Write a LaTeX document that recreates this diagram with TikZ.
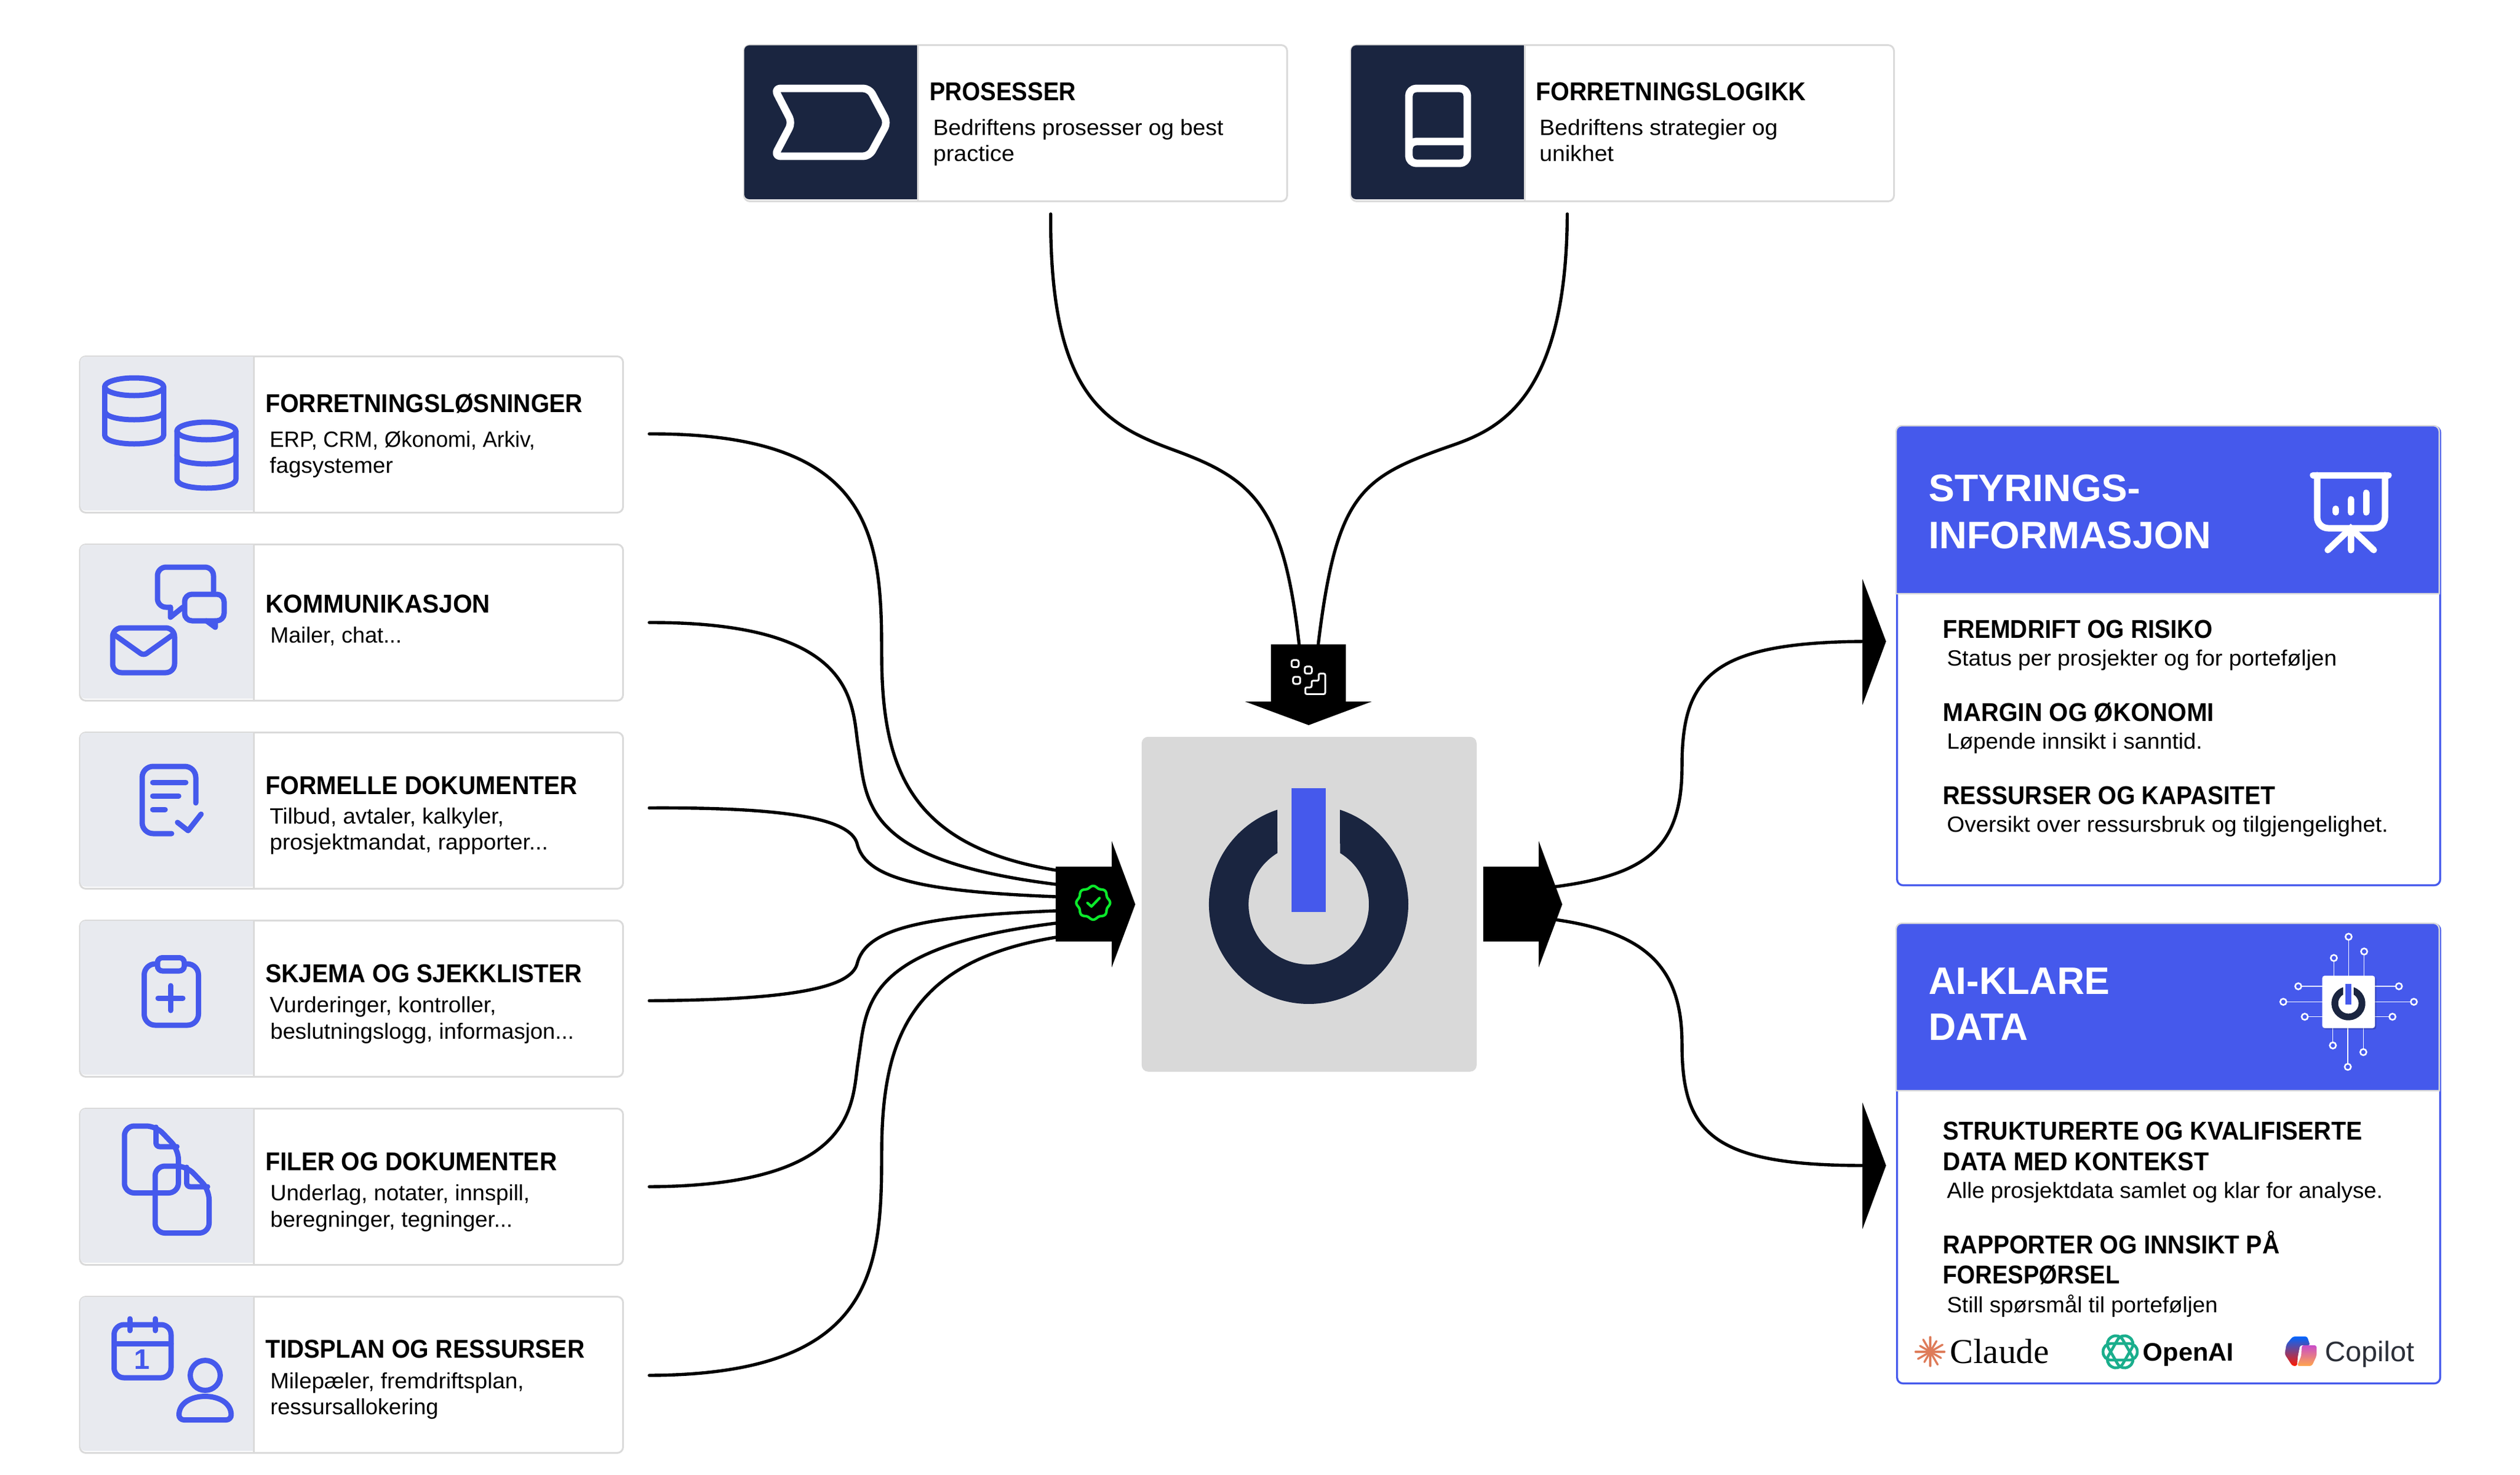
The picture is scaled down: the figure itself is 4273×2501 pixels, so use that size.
\documentclass[tikz,border=0pt]{standalone}
\usepackage{fontspec}
\setmainfont{Liberation Sans}
\newfontfamily\claudefont{Liberation Serif}
\definecolor{brandblue}{HTML}{4559EC}
\definecolor{navy}{HTML}{1A2540}
\definecolor{hubgray}{HTML}{D9D9D9}
\definecolor{cardgray}{HTML}{DADADA}
\definecolor{panegray}{HTML}{E8EAEF}
\definecolor{okgreen}{HTML}{0BEA2B}
\definecolor{claudeorange}{HTML}{DE7C5A}
\definecolor{openaigreen}{HTML}{1AAE8C}
\definecolor{copgray}{HTML}{2B2F38}
\newsavebox\fitbox
\newcommand\fitw[2]{\sbox\fitbox{#2}\pgfmathsetmacro\fitr{#1*0.24/\the\wd\fitbox}\scalebox{\fitr}[1]{\usebox\fitbox}}
\newcommand\lbl[6]{\node[#2,anchor=base west] (#1) at (#3-2.5,#4) {\fitw{#5}{#6}};}
\tikzset{
  titletext/.style={inner sep=0pt,font=\bfseries\fontsize{10.5pt}{12pt}\selectfont,text=black},
  bodytext/.style={inner sep=0pt,font=\fontsize{9pt}{11pt}\selectfont,text=black},
  headtext/.style={inner sep=0pt,font=\bfseries\fontsize{15.6pt}{18pt}\selectfont,text=white},
  cardnode/.style={rectangle,draw=cardgray,fill=white,line width=0.72pt,rounded corners=2.4pt,minimum width=221.04pt,minimum height=63.6pt,inner sep=0pt,anchor=north west},
  panelnode/.style={rectangle,draw=brandblue,fill=white,line width=0.8pt,rounded corners=2.4pt,minimum width=221.04pt,inner sep=0pt,anchor=north west},
  hubnode/.style={rectangle,fill=hubgray,rounded corners=2.6pt,minimum width=136.3pt,minimum height=136.3pt,inner sep=0pt},
  iconline/.style={draw=brandblue,line width=2.16pt,line cap=round,line join=round},
  wline/.style={draw=white,line width=3.1pt,line cap=round,line join=round},
  flowline/.style={draw=black,line width=1.3pt,line cap=round},
  bigarrow/.style={fill=black},
}
\newcommand\cardbox[4]{%
  \node[cardnode] (#1) at (#2,#3) {};
  \path[fill=#4] (#2+295,#3+2) [rounded corners=2pt] -- (#2+2,#3+2) -- (#2+2,#3+263) [sharp corners] -- (#2+295,#3+263) -- cycle;
  \draw[cardgray,line width=0.72pt] (#2+296,#3) -- (#2+296,#3+265);
}
\newcommand\dbicon[2]{%
  \draw[iconline] (#1,#2) ellipse [x radius=12pt,y radius=3.6pt];
  \draw[iconline] (#1-50,#2) -- (#1-50,#2+82) .. controls (#1-50,#2+102) and (#1+50,#2+102) .. (#1+50,#2+82) -- (#1+50,#2);
  \draw[iconline] (#1-50,#2+41) .. controls (#1-50,#2+61) and (#1+50,#2+61) .. (#1+50,#2+41);
}
\newcommand\docicon[2]{%
  \draw[iconline,rounded corners=4pt] (#1,#2+50) -- (#1,#2) -- (#1+53.5,#2) -- (#1+91.5,#2+40) -- (#1+91.5,#2+113.5) -- (#1,#2+113.5) -- cycle;
  \draw[iconline,rounded corners=1.5pt] (#1+53.5,#2+2) -- (#1+53.5,#2+35) -- (#1+89,#2+35);
}
\newcommand\powericon[3]{%
  \begin{scope}[shift={(#1,#2)},scale=#3]
    \fill[navy] (53,-160.5) arc[start angle=71.7,end angle=-251.7,radius=40.56pt] -- (-53,-87) arc[start angle=121.4,end angle=418.6,radius=24.48pt] -- cycle;
    \fill[brandblue] (-29,-197) rectangle (29,13);
  \end{scope}
}
\begin{document}
\begin{tikzpicture}[x=0.24pt,y=-0.24pt]
\useasboundingbox (0,0) rectangle (4273,2501);
% ---------- cards
\cardbox{topA}{1260}{75}{navy}
\cardbox{topB}{2289}{75}{navy}
\cardbox{cardA}{134}{603}{panegray}
\cardbox{cardB}{134}{922}{panegray}
\cardbox{cardC}{134}{1241}{panegray}
\cardbox{cardD}{134}{1560}{panegray}
\cardbox{cardE}{134}{1879}{panegray}
\cardbox{cardF}{134}{2198}{panegray}
% ---------- hub
\node[hubnode,anchor=north west] (hub) at (1935,1249) {};
\powericon{2219}{1534}{1}
% ---------- connector ends
\coordinate (inA) at (1790,1476);
\coordinate (inB) at (1790,1500);
\coordinate (inC) at (1790,1521);
\coordinate (inD) at (1790,1545);
\coordinate (inE) at (1790,1566);
\coordinate (inF) at (1790,1590);
\coordinate (downL) at (2203,1095);
\coordinate (downR) at (2235,1095);
\coordinate (outU) at (2630,1505);
\coordinate (outL) at (2630,1559);
\coordinate (headU) at (3160,1088);
\coordinate (headL) at (3160,1977);
% ---------- connectors
\draw[flowline] ([xshift=10.32pt,yshift=0.24pt]cardA.east) .. controls (1480,734.5) and (1495,907.5) .. (1495,1108) .. controls (1495,1300) and (1540,1435) .. (inA);
\draw[flowline] ([xshift=10.32pt]cardB.east) .. controls (1457,1055) and (1444,1196) .. (1455,1265) .. controls (1470,1358) and (1457,1458.5) .. (inB);
\draw[flowline] ([xshift=10.32pt,yshift=1.08pt]cardC.east) .. controls (1348,1369) and (1441,1391.4) .. (1453,1430) .. controls (1467,1490) and (1560,1512) .. (inC);
\draw[flowline] ([xshift=10.32pt,yshift=-0.84pt]cardD.east) .. controls (1348,1696) and (1441,1674.6) .. (1453,1636) .. controls (1467,1576) and (1560,1554) .. (inD);
\draw[flowline] ([xshift=10.32pt]cardE.east) .. controls (1457,2011) and (1444,1870) .. (1455,1801) .. controls (1470,1708) and (1457,1607.5) .. (inE);
\draw[flowline] ([xshift=10.32pt,yshift=-0.24pt]cardF.east) .. controls (1480,2331.5) and (1495,2158.5) .. (1495,1958) .. controls (1495,1766) and (1540,1631) .. (inF);
\draw[flowline] ([xshift=14.3pt,yshift=-4.8pt]topA.south) .. controls (1780,670) and (1872,720) .. (1992,764) .. controls (2126,813) and (2177,859) .. (downL);
\draw[flowline] ([xshift=-22.44pt,yshift=-4.8pt]topB.south) .. controls (2656,683) and (2536,730) .. (2458,757) .. controls (2307,810) and (2266,837) .. (downR);
\draw[flowline] (outU) .. controls (2790,1485) and (2852,1440) .. (2852,1300) .. controls (2852,1150) and (2900,1090) .. (headU);
\draw[flowline] (outL) .. controls (2790,1580) and (2852,1640) .. (2852,1770) .. controls (2852,1920) and (2900,1977) .. (headL);
% ---------- block arrows
\fill[bigarrow] (2155,1093) -- (2282,1093) -- (2282,1190) -- (2326,1190) -- (2219,1230) -- (2111,1190) -- (2155,1190) -- cycle;
\fill[bigarrow] (1790,1470) -- (1885,1470) -- (1885,1426.5) -- (1925,1534) -- (1885,1641) -- (1885,1597) -- (1790,1597) -- cycle;
\fill[bigarrow] (2515,1470) -- (2609,1470) -- (2609,1426.5) -- (2649,1534) -- (2609,1641) -- (2609,1597) -- (2515,1597) -- cycle;
\fill[bigarrow] (3158,982) -- (3198,1088) -- (3158,1196) -- cycle;
\fill[bigarrow] (3158,1870) -- (3198,1977) -- (3158,2085) -- cycle;
% stairs icon
\begin{scope}[shift={(2100,1080)},x=0.08pt,y=-0.08pt]
  \foreach \cx/\cy in {288/137,355/170,296/222}
    \draw[white,line width=0.72pt,rounded corners=0.8pt] (\cx-18,\cy-18) rectangle (\cx+18,\cy+18);
  \draw[white,line width=0.72pt,rounded corners=0.6pt] (340,292) -- (441,292) -- (441,188) -- (408,188) -- (408,224) -- (372,224) -- (372,258) -- (340,258) -- cycle;
\end{scope}
% badge icon
\begin{scope}[shift={(1760,1400)},x=0.08pt,y=-0.08pt]
  \draw[okgreen,line width=1.04pt] plot[domain=0:356,samples=90,smooth] ({281+(81+5*cos(8*\x))*cos(\x)},{394+(81+5*cos(8*\x))*sin(\x)}) -- cycle;
  \draw[okgreen,line width=1.04pt,line cap=round,line join=round] (252,395) -- (272,413) -- (313,370);
\end{scope}
% ---------- top card icons
\draw[wline,rounded corners=2.5pt] (1313,150) -- (1474,150) -- (1505,208) -- (1474,265) -- (1313,265) -- (1343,208) -- cycle;
\draw[wline,rounded corners=3pt] (2389,262) -- (2389,150) -- (2488,150) -- (2488,277) -- (2389,277) -- (2389,240) -- (2488,240);
% ---------- left card icons
\dbicon{227.5}{656}
\dbicon{350}{731}
% comm
\draw[iconline,rounded corners=3.5pt] (362,1003) -- (362,962) -- (267,962) -- (267,1030) -- (289,1030);
\draw[iconline] (289,1030) -- (289,1047) -- (310,1030);
\draw[iconline,rounded corners=3pt] (350,1053) -- (380,1053) -- (380,1008) -- (313,1008) -- (313,1053) -- (350,1053);
\draw[iconline] (350,1053) -- (365,1064) -- (365,1053);
\draw[iconline,rounded corners=3.6pt] (191,1065) rectangle (296,1141);
\draw[iconline,rounded corners=1.5pt] (193,1076) -- (243.5,1112) -- (294,1076);
% doc check
\draw[iconline,rounded corners=4.5pt] (332,1362) -- (332,1300) -- (241,1300) -- (241,1414) -- (291,1414);
\draw[iconline] (259,1327) -- (315,1327);
\draw[iconline] (259,1350) -- (303,1350);
\draw[iconline] (259,1373) -- (280,1373);
\draw[iconline] (301,1395) -- (319,1409) -- (341,1381);
% clipboard
\draw[iconline,rounded corners=4.5pt] (244.5,1635) rectangle (336.5,1739);
\draw[iconline,fill=panegray,rounded corners=2pt] (267,1624.5) rectangle (312.5,1647);
\draw[iconline] (268,1693) -- (310,1693);
\draw[iconline] (289.4,1672) -- (289.4,1714);
% files
\docicon{211}{1910}
\docicon{263}{1978}
% calendar + person
\draw[iconline,rounded corners=4pt] (193.5,2247) rectangle (290,2337);
\draw[iconline] (193.5,2279) -- (290,2279);
\draw[iconline] (220,2237) -- (220,2257);
\draw[iconline] (263,2237) -- (263,2257);
\node[inner sep=0pt,text=brandblue,font=\bfseries\fontsize{11.5pt}{12pt}\selectfont] (calOne) at (241,2306) {1};
\draw[iconline] (348,2333) circle [radius=6.1pt];
\draw[iconline,rounded corners=2pt] (303.5,2408.5) .. controls (303.5,2358) and (392,2358) .. (392,2408.5) -- cycle;
% ---------- card text
\lbl{tA}{titletext}{1578}{171}{248}{PROSESSER}
\lbl{tAa}{bodytext}{1584}{229}{492}{Bedriftens prosesser og best}
\lbl{tAb}{bodytext}{1584}{273}{138}{practice}
\lbl{tB}{titletext}{2606}{171}{458}{FORRETNINGSLOGIKK}
\lbl{tBa}{bodytext}{2612}{229}{404}{Bedriftens strategier og}
\lbl{tBb}{bodytext}{2612}{273}{126}{unikhet}
\lbl{cA}{titletext}{452}{699}{538}{FORRETNINGSLØSNINGER}
\lbl{cAa}{bodytext}{459}{758}{450}{ERP, CRM, Økonomi, Arkiv,}
\lbl{cAb}{bodytext}{459}{802}{209}{fagsystemer}
\lbl{cB}{titletext}{452}{1039}{381}{KOMMUNIKASJON}
\lbl{cBa}{bodytext}{460}{1090}{223}{Mailer, chat...}
\lbl{cC}{titletext}{452}{1347}{529}{FORMELLE DOKUMENTER}
\lbl{cCa}{bodytext}{459}{1397.5}{397}{Tilbud, avtaler, kalkyler,}
\lbl{cCb}{bodytext}{459}{1441}{472}{prosjektmandat, rapporter...}
\lbl{cD}{titletext}{452}{1666}{537}{SKJEMA OG SJEKKLISTER}
\lbl{cDa}{bodytext}{459}{1717}{384}{Vurderinger, kontroller,}
\lbl{cDb}{bodytext}{460}{1762}{515}{beslutningslogg, informasjon...}
\lbl{cE}{titletext}{452}{1985.5}{494}{FILER OG DOKUMENTER}
\lbl{cEa}{bodytext}{460}{2036}{440}{Underlag, notater, innspill,}
\lbl{cEb}{bodytext}{460}{2081}{411}{beregninger, tegninger...}
\lbl{cF}{titletext}{452}{2303.6}{541}{TIDSPLAN OG RESSURSER}
\lbl{cFa}{bodytext}{460}{2355}{430}{Milepæler, fremdriftsplan,}
\lbl{cFb}{bodytext}{460}{2399}{285}{ressursallokering}
% ---------- right panels
\node[panelnode,minimum height=186.72pt] (panelA) at (3215,722) {};
\path[fill=brandblue,draw=cardgray,line width=0.6pt] (3215,1007) [rounded corners=2.4pt] -- (3215,722) -- (4136,722) [sharp corners] -- (4136,1007) -- cycle;
\node[panelnode,minimum height=186.96pt] (panelB) at (3215,1566) {};
\path[fill=brandblue,draw=cardgray,line width=0.6pt] (3215,1850) [rounded corners=2.4pt] -- (3215,1566) -- (4136,1566) [sharp corners] -- (4136,1850) -- cycle;
\lbl{hA}{headtext}{3272}{850}{359}{STYRINGS-}
\lbl{hAb}{headtext}{3272}{930}{479}{INFORMASJON}
\lbl{hB}{headtext}{3272}{1686.6}{307}{AI-KLARE}
\lbl{hBb}{headtext}{3272}{1764.4}{169}{DATA}
\lbl{pA}{titletext}{3296}{1082.7}{458}{FREMDRIFT OG RISIKO}
\lbl{pAa}{bodytext}{3303}{1129}{661}{Status per prosjekter og for porteføljen}
\lbl{pB}{titletext}{3296}{1223.6}{460}{MARGIN OG ØKONOMI}
\lbl{pBa}{bodytext}{3303}{1270}{433}{Løpende innsikt i sanntid.}
\lbl{pC}{titletext}{3296}{1364.5}{564}{RESSURSER OG KAPASITET}
\lbl{pCa}{bodytext}{3303}{1411}{748}{Oversikt over ressursbruk og tilgjengelighet.}
\lbl{qA}{titletext}{3296}{1933.8}{711}{STRUKTURERTE OG KVALIFISERTE}
\lbl{qAb}{titletext}{3296}{1985}{451}{DATA MED KONTEKST}
\lbl{qAc}{bodytext}{3303}{2032.8}{739}{Alle prosjektdata samlet og klar for analyse.}
\lbl{qB}{titletext}{3296}{2126}{571}{RAPPORTER OG INNSIKT PÅ}
\lbl{qBb}{titletext}{3296}{2177}{300}{FORESPØRSEL}
\lbl{qBc}{bodytext}{3303}{2226.5}{459}{Still spørsmål til porteføljen}
% presentation icon
\draw[draw=white,line width=2.64pt,line cap=round,line join=round] (3922,806) -- (4050,806);
\draw[draw=white,line width=2.64pt,line cap=round,line join=round,rounded corners=4.5pt] (3929,806) -- (3929,896) -- (4044,896) -- (4044,806);
\foreach \bx/\by in {3960.5/863,3986/847,4012/836}
  \draw[draw=white,line width=2.64pt,line cap=round] (\bx,\by) -- (\bx,869);
\draw[draw=white,line width=2.64pt,line cap=round] (3947,933) -- (3986,896) -- (4025,933);
\draw[draw=white,line width=2.64pt,line cap=round] (3986,896) -- (3986,933);
% chip icon
\begin{scope}[shift={(3850,1570)},x=0.08pt,y=-0.08pt]
  \foreach \ax/\ay/\bx/\by in {397/57/397/255,322/165/322/255,476/132/476/255,141/309/263/309,65/388/263/388,174/464/263/464,653/309/531/309,729/388/531/388,620/464/531/464,317/610/317/522,393/719/393/522,472/644/472/522}{
    \draw[white,line width=0.3pt] (\ax,\ay) -- (\bx,\by);
    \draw[white,fill=brandblue,line width=0.64pt] (\ax,\ay) circle [radius=1.28pt];
  }
  \fill[black,opacity=0.18,rounded corners=1pt] (270,262) rectangle (538,529);
  \fill[white,rounded corners=1pt] (263,255) rectangle (531,522);
\end{scope}
\powericon{3982}{1702}{0.17}
% ---------- logos
\foreach \a/\r in {0/24,30/21,60/25,90/24,120/20,150/24,180/25,210/20,240/24,270/25,300/21,330/24}
  \draw[claudeorange,line width=0.85pt,line cap=round] (3273,2293) -- ++(\a:\r);
\node[inner sep=0pt,anchor=base west,text=black,font=\claudefont\fontsize{14.2pt}{16pt}\selectfont] (claude) at (3306,2312.7) {\fitw{168}{Claude}};
\foreach \a in {0,60,120}
  \draw[openaigreen,line width=1.15pt,rounded corners=3.2pt,rotate around={\a:(3595,2293)}] (3566,2279) rectangle (3624,2307);
\node[inner sep=0pt,anchor=base west,text=black,font=\bfseries\fontsize{10.3pt}{12pt}\selectfont] (openai) at (3633,2308) {\fitw{154}{OpenAI}};
\shade[top color=blue!60!cyan,middle color=green!70!yellow,bottom color=red!80!orange,rounded corners=0.8pt] (3888,2267) -- (3912,2267) -- (3917,2282) -- (3900,2282) -- (3896,2302) -- (3895,2317) -- (3887,2317) -- (3874,2297) -- (3877,2280) -- cycle;
\shade[top color=violet!60!magenta!70!white,middle color=magenta!70!orange!80!white,bottom color=orange!70!white,rounded corners=0.8pt] (3903,2282) -- (3928,2282) -- (3928,2300) -- (3920,2317) -- (3895,2317) -- (3902,2300) -- cycle;
\node[inner sep=0pt,anchor=base west,text=copgray,font=\fontsize{11.5pt}{13pt}\selectfont] (copilot) at (3942,2309) {\fitw{151}{Copilot}};
\end{tikzpicture}
\end{document}
